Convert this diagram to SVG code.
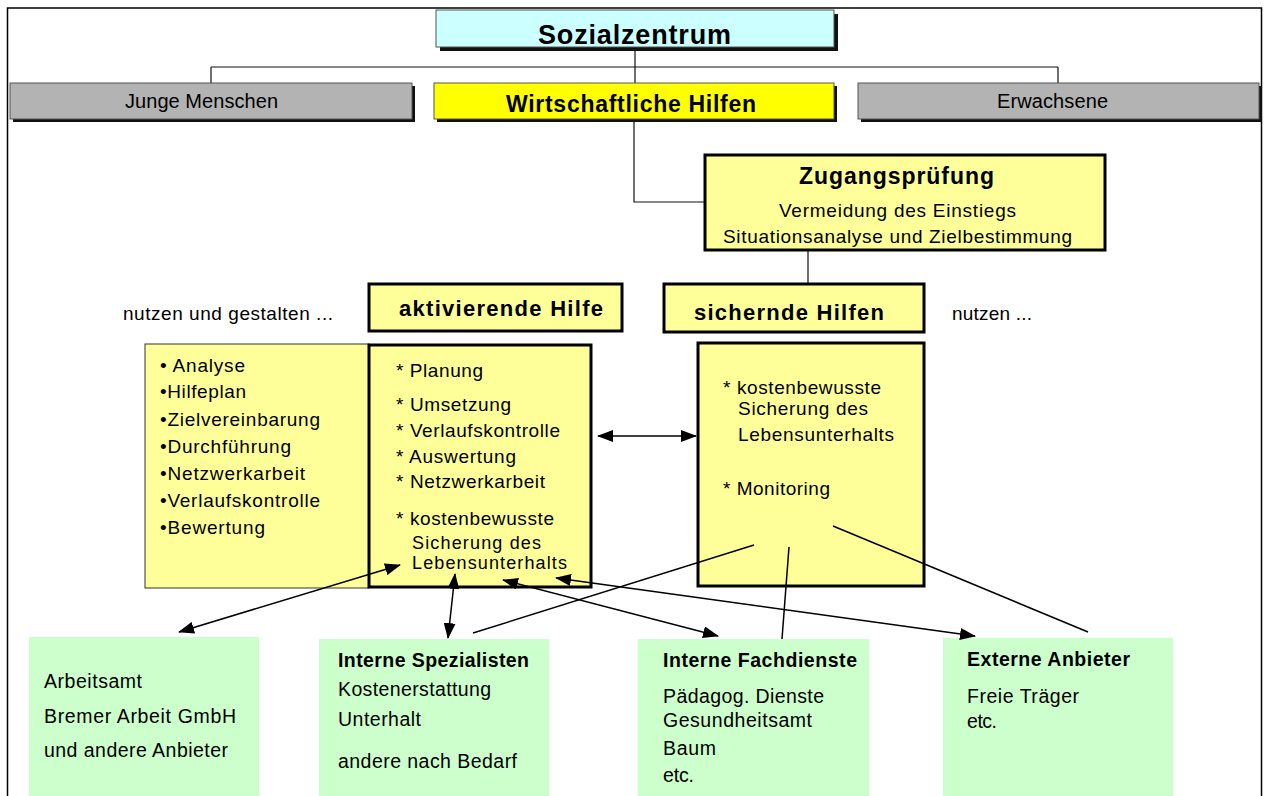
<svg xmlns="http://www.w3.org/2000/svg" width="1266" height="796" viewBox="0 0 1266 796">
<defs>
<marker id="ah" viewBox="0 0 16 12" refX="15" refY="6" markerWidth="16" markerHeight="12" markerUnits="userSpaceOnUse" orient="auto-start-reverse"><path d="M0,0 L16,6 L0,12 z" fill="#000"/></marker>
</defs>
<style>
text { font-family: "Liberation Sans", Arial, sans-serif; fill:#000; }
.t { font-size:19px; }
.s { font-size:18px; }
.g { font-size:19.5px; }
.h { font-size:20px; }
.b { font-weight:bold; }
.tree { fill:none; stroke:#111; stroke-width:1.2; }
.con { fill:none; stroke:#000; stroke-width:1.5; }
.arr { marker-start:url(#ah); marker-end:url(#ah); }
.shadow { fill:#111; }
.hdr { stroke:#555; stroke-width:1; }
.ybox { fill:#FFFF99; stroke:#000; stroke-width:3; }
.green { fill:#CCFFCC; }
</style>
<rect x="0" y="0" width="1266" height="796" fill="#fff"/>
<rect x="7.5" y="8" width="1254" height="800" fill="none" stroke="#000" stroke-width="1.5"/>

<g id="tree-connectors">
<path class="tree" d="M635,49 V67 M211,67 H1058 M211,67 V83 M1058,67 V83 M635,67 V83 M634,120 V202 H705 M808,250 V284"/>
</g>

<g id="sozialzentrum">
<rect class="shadow" x="440" y="14" width="398" height="37"/>
<rect class="hdr" x="436" y="10" width="398" height="37" fill="#CCFFFF"/>
<text x="538" y="44" font-size="27" class="b" textLength="193" lengthAdjust="spacing">Sozialzentrum</text>
</g>

<g id="junge-menschen">
<rect class="shadow" x="13" y="86" width="402" height="36"/>
<rect class="hdr" x="10" y="83" width="402" height="36" fill="#B3B3B3"/>
<text x="125" y="108" class="h" textLength="153" lengthAdjust="spacing">Junge Menschen</text>
</g>

<g id="wirtschaftliche-hilfen">
<rect class="shadow" x="437" y="86" width="400" height="36"/>
<rect class="hdr" x="434" y="83" width="400" height="36" fill="#FFFF00"/>
<text x="506" y="112" font-size="23" class="b" textLength="250" lengthAdjust="spacing">Wirtschaftliche Hilfen</text>
</g>

<g id="erwachsene">
<rect class="shadow" x="861" y="86" width="401" height="36"/>
<rect class="hdr" x="858" y="83" width="401" height="36" fill="#B3B3B3"/>
<text x="997" y="108" class="h" textLength="111" lengthAdjust="spacing">Erwachsene</text>
</g>

<g id="zugangspruefung">
<rect class="ybox" x="705" y="155" width="400" height="95"/>
<text x="799" y="184" font-size="23" class="b" textLength="195" lengthAdjust="spacing">Zugangsprüfung</text>
<text x="779" y="217" class="t" textLength="237" lengthAdjust="spacing">Vermeidung des Einstiegs</text>
<text x="723" y="243" class="t" textLength="349" lengthAdjust="spacing">Situationsanalyse und Zielbestimmung</text>
</g>

<g id="label-nutzen-gestalten">
<text x="123" y="320" class="t" textLength="210" lengthAdjust="spacing">nutzen und gestalten ...</text>
</g>

<g id="aktivierende-hilfe">
<rect class="ybox" x="369" y="284" width="253" height="47"/>
<text x="399" y="316" font-size="22" class="b" textLength="204" lengthAdjust="spacing">aktivierende Hilfe</text>
</g>

<g id="sichernde-hilfen">
<rect class="ybox" x="664" y="284" width="260" height="48"/>
<text x="694" y="320" font-size="22" class="b" textLength="190" lengthAdjust="spacing">sichernde Hilfen</text>
</g>

<g id="label-nutzen">
<text x="952" y="320" class="t" textLength="80" lengthAdjust="spacing">nutzen ...</text>
</g>

<g id="liste-links">
<rect x="145" y="344" width="224" height="244" fill="#FFFF99" stroke="#333" stroke-width="1"/>
<text x="160" y="372" class="t" textLength="85" lengthAdjust="spacing">• Analyse</text>
<text x="160" y="398" class="t" textLength="86" lengthAdjust="spacing">•Hilfeplan</text>
<text x="160" y="426" class="t" textLength="160" lengthAdjust="spacing">•Zielvereinbarung</text>
<text x="160" y="453" class="t" textLength="131" lengthAdjust="spacing">•Durchführung</text>
<text x="160" y="480" class="t" textLength="145" lengthAdjust="spacing">•Netzwerkarbeit</text>
<text x="160" y="507" class="t" textLength="160" lengthAdjust="spacing">•Verlaufskontrolle</text>
<text x="160" y="534" class="t" textLength="105" lengthAdjust="spacing">•Bewertung</text>
</g>

<g id="aktivierende-inhalt">
<rect class="ybox" x="369" y="345" width="222" height="242"/>
<text x="396" y="377" class="t" textLength="87" lengthAdjust="spacing">* Planung</text>
<text x="396" y="411" class="t" textLength="115" lengthAdjust="spacing">* Umsetzung</text>
<text x="396" y="437" class="t" textLength="164" lengthAdjust="spacing">* Verlaufskontrolle</text>
<text x="396" y="463" class="t" textLength="120" lengthAdjust="spacing">* Auswertung</text>
<text x="396" y="488" class="t" textLength="149" lengthAdjust="spacing">* Netzwerkarbeit</text>
<text x="396" y="525" class="t" textLength="158" lengthAdjust="spacing">* kostenbewusste</text>
<text x="412" y="549" class="s" textLength="129" lengthAdjust="spacing">Sicherung des</text>
<text x="412" y="569" class="s" textLength="155" lengthAdjust="spacing">Lebensunterhalts</text>
</g>

<g id="sichernde-inhalt">
<rect class="ybox" x="698" y="343" width="226" height="243"/>
<text x="723" y="394" class="t" textLength="158" lengthAdjust="spacing">* kostenbewusste</text>
<text x="738" y="415" class="t" textLength="130" lengthAdjust="spacing">Sicherung des</text>
<text x="738" y="441" class="t" textLength="156" lengthAdjust="spacing">Lebensunterhalts</text>
<text x="723" y="495" class="t" textLength="107" lengthAdjust="spacing">* Monitoring</text>
</g>

<g id="arbeitsamt">
<rect class="green" x="29" y="637" width="230" height="170"/>
<text x="44" y="688" class="g" textLength="98" lengthAdjust="spacing">Arbeitsamt</text>
<text x="44" y="723" class="g" textLength="192" lengthAdjust="spacing">Bremer Arbeit GmbH</text>
<text x="44" y="757" class="g" textLength="184" lengthAdjust="spacing">und andere Anbieter</text>
</g>

<g id="interne-spezialisten">
<rect class="green" x="319" y="639" width="230" height="170"/>
<text x="338" y="667" class="g b" textLength="191" lengthAdjust="spacing">Interne Spezialisten</text>
<text x="338" y="696" class="g" textLength="153" lengthAdjust="spacing">Kostenerstattung</text>
<text x="338" y="726" class="g" textLength="83" lengthAdjust="spacing">Unterhalt</text>
<text x="338" y="768" class="g" textLength="179" lengthAdjust="spacing">andere nach Bedarf</text>
</g>

<g id="interne-fachdienste">
<rect class="green" x="638" y="639" width="231" height="170"/>
<text x="663" y="667" class="g b" textLength="194" lengthAdjust="spacing">Interne Fachdienste</text>
<text x="663" y="703" class="g" textLength="161" lengthAdjust="spacing">Pädagog. Dienste</text>
<text x="663" y="727" class="g" textLength="149" lengthAdjust="spacing">Gesundheitsamt</text>
<text x="663" y="755" class="g" textLength="53" lengthAdjust="spacing">Baum</text>
<text x="663" y="782" class="g" textLength="31" lengthAdjust="spacing">etc.</text>
</g>

<g id="externe-anbieter">
<rect class="green" x="943" y="638" width="230" height="170"/>
<text x="967" y="666" class="g b" textLength="163" lengthAdjust="spacing">Externe Anbieter</text>
<text x="967" y="703" class="g" textLength="112" lengthAdjust="spacing">Freie Träger</text>
<text x="967" y="728" class="g" textLength="30" lengthAdjust="spacing">etc.</text>
</g>

<g id="connectors">
<line class="con arr" x1="598" y1="436" x2="696" y2="436"/>
<line class="con arr" x1="400" y1="565" x2="179" y2="632"/>
<line class="con arr" x1="455" y1="574" x2="448" y2="638"/>
<line class="con arr" x1="503" y1="580" x2="718" y2="636"/>
<line class="con arr" x1="556" y1="578" x2="975" y2="636"/>
<line class="con" x1="754" y1="545" x2="473" y2="633"/>
<line class="con" x1="789" y1="547" x2="782" y2="639"/>
<line class="con" x1="833" y1="526" x2="1088" y2="632"/>
</g>
</svg>
